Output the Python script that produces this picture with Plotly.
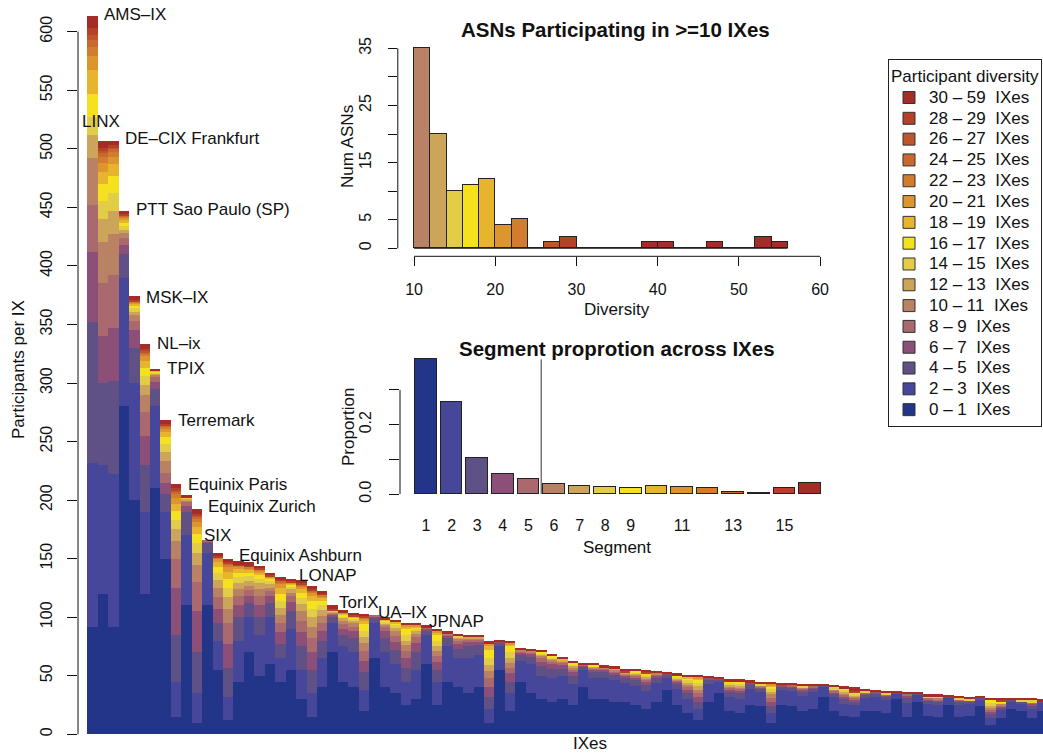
import plotly.graph_objects as go

W, H = 1043, 753
FONT = "Liberation Sans, Arial, Helvetica, sans-serif"
INK = "#111111"

# ---------------- data ----------------
diversity_classes = ["0 – 1", "2 – 3", "4 – 5", "6 – 7", "8 – 9", "10 – 11", "12 – 13",
                     "14 – 15", "16 – 17", "18 – 19", "20 – 21", "22 – 23", "24 – 25",
                     "26 – 27", "28 – 29", "30 – 59"]
palette = ["#233589", "#46469a", "#5f5085", "#8c5078", "#aa696e", "#b98264", "#cda55a",
           "#e1cd46", "#f5e11e", "#e6b42d", "#dc962d", "#d27d2d", "#c8692d", "#be552d",
           "#b44128", "#a52d28"]

# participants per IX split by participant diversity class (columns follow diversity_classes)
ix_segments = [
    [92, 140, 120, 60, 40, 40, 20, 15, 20, 20, 12, 8, 6, 4, 6, 10],
    [120, 110, 70, 40, 45, 35, 20, 15, 15, 10, 8, 5, 3, 2, 3, 6],
    [92, 130, 80, 45, 45, 35, 20, 15, 15, 10, 6, 4, 3, 1, 2, 4],
    [280, 110, 20, 8, 6, 4, 3, 3, 3, 2, 2, 1, 1, 0, 1, 3],
    [200, 100, 30, 15, 8, 5, 3, 3, 2, 2, 1, 1, 0, 0, 1, 3],
    [120, 70, 40, 25, 20, 15, 8, 8, 7, 6, 4, 2, 1, 1, 2, 4],
    [210, 70, 15, 6, 4, 2, 1, 1, 1, 1, 0, 0, 0, 0, 0, 1],
    [150, 40, 15, 10, 8, 10, 8, 7, 6, 4, 3, 2, 1, 0, 1, 3],
    [15, 30, 40, 40, 25, 15, 10, 8, 8, 6, 5, 3, 2, 1, 2, 4],
    [110, 60, 20, 5, 3, 2, 1, 1, 0, 0, 0, 0, 0, 0, 0, 2],
    [10, 25, 35, 35, 25, 15, 10, 8, 8, 6, 4, 3, 2, 1, 1, 4],
    [110, 45, 8, 2, 1, 0, 0, 0, 0, 0, 0, 0, 0, 0, 0, 0],
    [55, 25, 15, 12, 10, 8, 7, 6, 5, 4, 3, 1, 0, 0, 1, 3],
    [12, 20, 25, 20, 18, 12, 10, 8, 8, 6, 4, 2, 1, 0, 1, 3],
    [45, 35, 20, 10, 8, 6, 5, 5, 4, 3, 2, 1, 0, 0, 1, 3],
    [70, 30, 12, 6, 5, 4, 4, 4, 3, 2, 2, 1, 0, 0, 1, 3],
    [50, 35, 15, 10, 8, 6, 5, 4, 3, 2, 2, 1, 0, 0, 1, 2],
    [60, 40, 12, 6, 4, 3, 3, 3, 2, 1, 1, 0, 0, 0, 1, 2],
    [45, 20, 12, 10, 8, 7, 6, 6, 6, 5, 3, 2, 1, 0, 1, 2],
    [55, 35, 15, 8, 5, 3, 3, 2, 2, 1, 1, 0, 0, 0, 1, 2],
    [30, 25, 20, 12, 10, 8, 6, 5, 5, 3, 2, 1, 1, 0, 1, 3],
    [15, 20, 20, 15, 12, 10, 8, 7, 7, 4, 3, 1, 1, 0, 1, 3],
    [40, 25, 15, 8, 7, 6, 5, 4, 4, 3, 1, 1, 0, 0, 1, 2],
    [70, 25, 5, 2, 1, 1, 1, 1, 0, 0, 0, 0, 0, 0, 1, 3],
    [45, 30, 10, 5, 4, 3, 2, 2, 1, 1, 1, 0, 0, 0, 0, 2],
    [40, 30, 12, 6, 4, 3, 2, 2, 1, 1, 0, 0, 0, 0, 1, 2],
    [20, 18, 15, 10, 8, 7, 5, 5, 6, 3, 2, 1, 0, 0, 1, 2],
    [65, 30, 5, 1, 1, 0, 0, 0, 0, 0, 0, 0, 0, 0, 0, 0],
    [40, 30, 12, 6, 4, 2, 1, 1, 1, 1, 0, 0, 0, 0, 0, 2],
    [35, 25, 12, 7, 5, 4, 3, 2, 2, 1, 0, 0, 0, 0, 0, 2],
    [25, 20, 12, 8, 6, 5, 4, 5, 5, 2, 1, 0, 0, 0, 0, 2],
    [30, 25, 15, 8, 5, 3, 2, 2, 1, 1, 1, 0, 0, 0, 0, 2],
    [60, 25, 4, 1, 1, 0, 0, 0, 0, 0, 0, 0, 0, 0, 0, 2],
    [25, 20, 10, 7, 5, 4, 4, 5, 5, 2, 1, 0, 0, 0, 0, 2],
    [45, 30, 7, 2, 1, 1, 0, 0, 0, 0, 0, 0, 0, 0, 0, 2],
    [40, 25, 8, 4, 3, 2, 1, 1, 0, 0, 0, 0, 0, 0, 0, 2],
    [35, 30, 10, 4, 2, 1, 1, 0, 0, 0, 0, 0, 0, 0, 0, 2],
    [40, 28, 8, 3, 2, 1, 1, 0, 0, 0, 0, 0, 0, 0, 0, 2],
    [10, 12, 10, 8, 8, 6, 5, 6, 7, 3, 2, 0, 0, 0, 0, 3],
    [55, 20, 3, 1, 0, 0, 0, 0, 0, 0, 0, 0, 0, 0, 0, 1],
    [20, 15, 10, 7, 5, 4, 4, 5, 5, 2, 1, 0, 0, 0, 0, 2],
    [45, 18, 5, 2, 1, 1, 0, 0, 0, 0, 0, 0, 0, 0, 0, 2],
    [35, 25, 6, 3, 1, 1, 0, 0, 0, 0, 0, 0, 0, 0, 0, 2],
    [30, 20, 8, 4, 3, 2, 1, 1, 1, 0, 0, 0, 0, 0, 0, 2],
    [28, 20, 8, 4, 2, 2, 1, 1, 1, 0, 0, 0, 0, 0, 0, 2],
    [30, 20, 6, 3, 2, 1, 1, 0, 0, 1, 0, 0, 0, 0, 0, 2],
    [25, 18, 7, 3, 2, 2, 1, 2, 1, 0, 0, 0, 0, 0, 0, 2],
    [40, 15, 3, 1, 1, 0, 0, 0, 0, 0, 0, 0, 0, 0, 0, 1],
    [30, 18, 5, 2, 1, 1, 1, 0, 1, 0, 0, 0, 0, 0, 0, 2],
    [30, 18, 5, 2, 1, 1, 0, 0, 0, 0, 0, 0, 0, 0, 0, 2],
    [28, 18, 5, 2, 1, 1, 1, 0, 0, 0, 0, 0, 0, 0, 0, 2],
    [28, 16, 4, 2, 1, 1, 1, 0, 0, 0, 0, 0, 0, 0, 1, 2],
    [25, 16, 5, 2, 2, 1, 1, 1, 1, 0, 0, 0, 0, 0, 0, 2],
    [22, 15, 5, 3, 2, 1, 1, 2, 1, 0, 0, 0, 0, 0, 1, 2],
    [28, 16, 4, 2, 1, 1, 0, 0, 0, 0, 0, 0, 0, 0, 0, 2],
    [38, 10, 3, 1, 0, 0, 0, 0, 0, 0, 0, 0, 0, 0, 0, 1],
    [25, 14, 4, 2, 1, 1, 1, 1, 1, 0, 0, 0, 0, 0, 0, 2],
    [18, 12, 5, 3, 2, 2, 2, 2, 2, 1, 0, 0, 0, 0, 0, 2],
    [12, 10, 6, 4, 3, 3, 3, 3, 3, 1, 1, 0, 0, 0, 0, 2],
    [28, 15, 4, 1, 0, 0, 0, 0, 0, 0, 0, 0, 0, 0, 0, 2],
    [35, 10, 2, 1, 0, 0, 0, 0, 0, 0, 0, 0, 0, 0, 0, 1],
    [20, 12, 4, 2, 2, 1, 1, 2, 1, 0, 0, 0, 0, 0, 0, 2],
    [18, 12, 5, 2, 2, 1, 1, 2, 2, 0, 0, 0, 0, 0, 0, 2],
    [25, 14, 4, 1, 0, 0, 0, 0, 0, 0, 0, 0, 0, 0, 0, 2],
    [24, 12, 3, 1, 1, 1, 0, 1, 0, 0, 0, 0, 0, 0, 0, 2],
    [10, 8, 6, 4, 3, 3, 2, 3, 2, 1, 1, 0, 0, 0, 0, 2],
    [25, 13, 3, 1, 0, 0, 0, 0, 0, 0, 0, 0, 0, 0, 0, 2],
    [24, 13, 3, 1, 1, 0, 0, 0, 0, 0, 0, 0, 0, 0, 0, 2],
    [20, 13, 3, 2, 1, 1, 0, 1, 0, 0, 0, 0, 0, 0, 0, 2],
    [22, 14, 3, 1, 1, 0, 0, 0, 0, 0, 0, 0, 0, 0, 0, 2],
    [32, 8, 2, 0, 0, 0, 0, 0, 0, 0, 0, 0, 0, 0, 0, 1],
    [20, 12, 3, 1, 1, 1, 0, 2, 0, 0, 0, 0, 0, 0, 0, 2],
    [16, 10, 4, 2, 2, 1, 1, 2, 1, 0, 0, 0, 0, 0, 0, 2],
    [15, 10, 3, 2, 1, 1, 1, 2, 1, 0, 0, 0, 0, 0, 1, 3],
    [20, 11, 3, 1, 1, 0, 0, 1, 0, 0, 0, 0, 0, 0, 0, 2],
    [20, 12, 3, 1, 0, 0, 0, 0, 0, 0, 0, 0, 0, 0, 0, 2],
    [18, 11, 3, 1, 1, 0, 0, 1, 0, 0, 0, 0, 0, 0, 0, 2],
    [30, 5, 1, 0, 0, 0, 0, 0, 0, 0, 0, 0, 0, 0, 0, 1],
    [15, 12, 4, 2, 1, 0, 0, 0, 0, 0, 0, 0, 0, 0, 0, 2],
    [28, 6, 1, 0, 0, 0, 0, 0, 0, 0, 0, 0, 0, 0, 0, 1],
    [16, 10, 3, 1, 1, 0, 0, 1, 0, 0, 0, 0, 0, 0, 0, 2],
    [15, 10, 3, 1, 1, 1, 0, 1, 0, 0, 0, 0, 0, 0, 0, 2],
    [25, 6, 1, 0, 0, 0, 0, 0, 0, 0, 0, 0, 0, 0, 0, 1],
    [15, 10, 3, 1, 1, 0, 0, 1, 0, 0, 0, 0, 0, 0, 0, 2],
    [16, 10, 2, 1, 0, 0, 0, 1, 0, 0, 0, 0, 0, 0, 0, 2],
    [24, 6, 1, 0, 0, 0, 0, 0, 0, 0, 0, 0, 0, 0, 0, 1],
    [8, 6, 3, 2, 2, 2, 1, 3, 2, 0, 0, 0, 0, 0, 0, 2],
    [14, 7, 2, 1, 1, 1, 0, 1, 1, 0, 0, 0, 0, 0, 1, 2],
    [22, 6, 1, 0, 0, 0, 0, 0, 0, 0, 0, 0, 0, 0, 0, 2],
    [20, 6, 2, 0, 0, 0, 0, 1, 0, 0, 0, 0, 0, 0, 0, 2],
    [14, 8, 3, 1, 1, 0, 0, 2, 0, 0, 0, 0, 0, 0, 0, 2],
    [20, 7, 1, 0, 0, 0, 0, 0, 0, 0, 0, 0, 0, 0, 0, 2],
]
ix_index = list(range(len(ix_segments)))

labeled_names = ["AMS–IX", "LINX", "DE–CIX Frankfurt", "PTT Sao Paulo (SP)", "MSK–IX",
                 "NL–ix", "TPIX", "Terremark", "Equinix Paris", "Equinix Zurich", "SIX",
                 "Equinix Ashburn", "LONAP", "TorIX", "UA–IX", "JPNAP"]
labeled_index = [0, 1, 2, 3, 4, 5, 6, 7, 8, 10, 11, 13, 19, 23, 26, 31]

y_ticks = list(range(0, 601, 50))

# inset 1: histogram of ASN diversity (>=10 IXes)
hist_bin_starts = list(range(10, 56, 2))
hist_counts = [35, 20, 10, 11, 12, 4, 5, 0, 1, 2, 0, 0, 0, 0, 1, 1, 0, 0, 1, 0, 0, 2, 1]
hist_bin_width = 2
hist_x_ticks = [10, 20, 30, 40, 50, 60]
hist_y_ticks = [0, 5, 10, 15, 20, 25, 30, 35]
hist_y_ticktext = ["0", "5", "", "15", "", "25", "", "35"]

# inset 2: segment proportion across IXes
seg_ids = list(range(1, 17))
seg_prop = [0.388, 0.266, 0.104, 0.058, 0.0425, 0.028, 0.024, 0.020, 0.018, 0.024,
            0.021, 0.016, 0.005, 0.003, 0.017, 0.032]
seg_x_ticks = [1, 2, 3, 4, 5, 6, 7, 8, 9, 11, 13, 15]
seg_y_ticks = [0.0, 0.1, 0.2, 0.3]
seg_y_ticktext = ["0.0", "", "0.2", ""]
seg_split = 5.5

# ---------------- styling / layout helpers (pixel geometry) ----------------
def px_x(p):
    return p / W


def px_y(p):
    return 1 - p / H


# label offsets (px) relative to bar centre / top
label_offsets = [(10.5, 1.5), (-22, 19.6), (10.6, 2.6), (11.2, 0.9), (10.7, -0.7),
                 (11.3, 0.4), (10.8, 0.9), (11.4, -0.5), (11.0, -0.3), (10.1, 2.5),
                 (-4.4, 4.9), (9.8, 3.5), (7.1, 3.0), (5.4, 2.5), (13.0, 1.0), (11.8, 1.1)]

fig = go.Figure()

# main stacked bars
for k, cls in enumerate(diversity_classes):
    fig.add_trace(go.Bar(
        x=ix_index, y=[row[k] for row in ix_segments], width=1,
        marker=dict(color=palette[k], line=dict(width=0)),
        showlegend=False, hoverinfo="skip", xaxis="x", yaxis="y"))

# legend entries (top = most diverse)
for k in reversed(range(len(diversity_classes))):
    fig.add_trace(go.Scatter(
        x=[None], y=[None], mode="markers", xaxis="x", yaxis="y",
        marker=dict(symbol="square", size=12, color=palette[k],
                    line=dict(color="#333333", width=1)),
        name='<span style="font-size:17px">' + diversity_classes[k] + "\u00a0 IXes</span>"))

# histogram inset
hist_colors = [palette[min(s // 2, len(palette) - 1)] for s in hist_bin_starts]
fig.add_trace(go.Bar(
    x=[s + hist_bin_width / 2 for s in hist_bin_starts], y=hist_counts, width=hist_bin_width,
    marker=dict(color=hist_colors, line=dict(color="#222222", width=1)),
    showlegend=False, hoverinfo="skip", xaxis="x2", yaxis="y2"))

# segment proportion inset
fig.add_trace(go.Bar(
    x=seg_ids, y=seg_prop, width=0.84,
    marker=dict(color=palette, line=dict(color="#222222", width=1.2)),
    showlegend=False, hoverinfo="skip", xaxis="x3", yaxis="y3"))

tickfont = dict(family=FONT, size=16, color=INK)

fig.update_layout(
    width=W, height=H,
    margin=dict(l=0, r=0, t=0, b=0, autoexpand=False),
    paper_bgcolor="white", plot_bgcolor="white",
    barmode="stack", bargap=0,
    font=dict(family=FONT, color=INK),
    showlegend=True,
    legend=dict(x=px_x(888), y=px_y(59), xanchor="left", yanchor="top",
                traceorder="normal",
                bordercolor="#222222", borderwidth=1, bgcolor="white",
                font=dict(family=FONT, size=13.7, color=INK),
                title=dict(text="Participant diversity", font=dict(family=FONT, size=17, color=INK)),
                tracegroupgap=0, itemclick=False, itemdoubleclick=False),
    xaxis=dict(domain=[px_x(78), 1], range=[(78 - 92.52) / 10.44, (1043 - 92.52) / 10.44],
               visible=False, fixedrange=True),
    yaxis=dict(domain=[px_y(745), 1], range=[(734.3 - 745) / 1.171, 734.3 / 1.171],
               tickvals=y_ticks, ticks="outside", ticklen=10, tickwidth=1, tickcolor=INK,
               tickangle=-90, tickfont=tickfont, ticklabelstandoff=9,
               showgrid=False, zeroline=False, showline=False),
    xaxis2=dict(domain=[px_x(397.8), px_x(836.3)], range=[8, 62], anchor="y2",
                tickvals=hist_x_ticks, ticks="outside", ticklen=9, tickwidth=1, tickcolor=INK,
                tickfont=tickfont, ticklabelstandoff=9,
                showgrid=False, zeroline=False, showline=False),
    yaxis2=dict(domain=[px_y(256.3), px_y(40.3)], range=[-1.4, 36.4], anchor="x2",
                tickvals=hist_y_ticks, ticktext=hist_y_ticktext, ticks="outside", ticklen=9,
                tickwidth=1, tickcolor=INK, tickangle=-90, tickfont=tickfont,
                ticklabelstandoff=10, showgrid=False, zeroline=False, showline=False),
    xaxis3=dict(domain=[px_x(400), px_x(830)],
                range=[1 + (400 - 426) / 25.6, 1 + (830 - 426) / 25.6], anchor="y3",
                tickvals=seg_x_ticks, ticks="", tickfont=tickfont, ticklabelstandoff=14,
                showgrid=False, zeroline=False, showline=False),
    yaxis3=dict(domain=[px_y(500), px_y(355)], range=[(494 - 500) / 347, (494 - 355) / 347],
                anchor="x3", tickvals=seg_y_ticks, ticktext=seg_y_ticktext, ticks="outside",
                ticklen=10, tickwidth=1, tickcolor=INK, tickangle=-90, tickfont=tickfont,
                ticklabelstandoff=12, showgrid=False, zeroline=False, showline=False),
)

line_style = dict(color=INK, width=1)
shapes = [
    # main y axis line (first to last tick)
    dict(type="line", xref="x domain", x0=0, x1=0, yref="y", y0=min(y_ticks), y1=max(y_ticks), line=line_style),
    # histogram axes
    dict(type="line", xref="x2 domain", x0=0, x1=0, yref="y2", y0=min(hist_y_ticks), y1=max(hist_y_ticks), line=line_style),
    dict(type="line", xref="x2", x0=min(hist_x_ticks), x1=max(hist_x_ticks), yref="y2 domain", y0=0, y1=0, line=line_style),
    dict(type="line", xref="x2", x0=hist_bin_starts[0], x1=hist_bin_starts[-1] + hist_bin_width,
         yref="y2", y0=0, y1=0, line=dict(color="#222222", width=1)),
    # segment axes
    dict(type="line", xref="x3 domain", x0=0, x1=0, yref="y3", y0=min(seg_y_ticks), y1=max(seg_y_ticks), line=line_style),
    dict(type="line", xref="x3", x0=seg_split, x1=seg_split, yref="y3", y0=0, y1=max(seg_prop),
         line=dict(color="#333333", width=1)),
]
fig.update_layout(shapes=shapes)

annotations = []
for name, idx, (dx, dy) in zip(labeled_names, labeled_index, label_offsets):
    annotations.append(dict(
        text=name, x=idx, y=sum(ix_segments[idx]), xref="x", yref="y",
        xanchor="left", yanchor="middle", xshift=dx, yshift=dy, showarrow=False,
        borderpad=0, font=dict(family=FONT, size=17, color=INK)))


def paper_text(text, x, y, size=17, angle=0):
    return dict(text=text, x=px_x(x), y=px_y(y), xref="paper", yref="paper",
                xanchor="center", yanchor="middle", showarrow=False, textangle=angle,
                font=dict(family=FONT, size=size, color=INK))


annotations += [
    paper_text("Participants per IX", 18, 370, 17, -90),
    paper_text("IXes", 590, 743, 17),
    paper_text("<b>ASNs Participating in >=10 IXes</b>", 615, 30, 20.5),
    paper_text("Num ASNs", 347, 147, 17, -90),
    paper_text("Diversity", 617, 309, 17),
    paper_text("<b>Segment proprotion across IXes</b>", 617, 348, 20.5),
    paper_text("Proportion", 348, 427, 17, -90),
    paper_text("Segment", 617, 547, 17),
]
fig.update_layout(annotations=annotations)

fig.write_html("out.html", config={"displayModeBar": False})
